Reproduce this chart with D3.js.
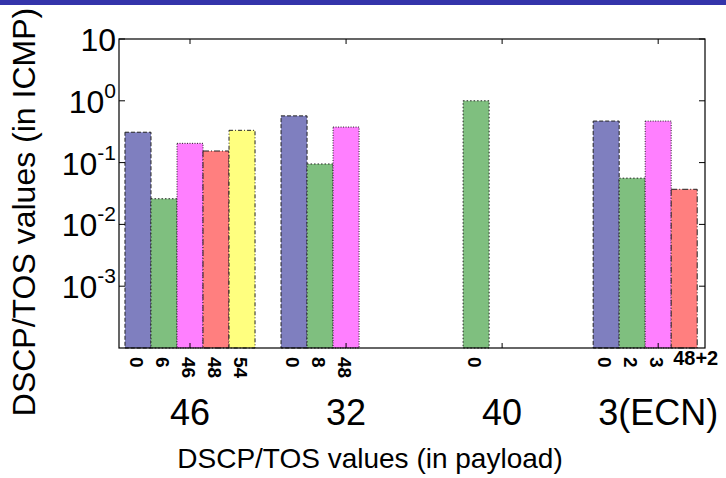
<!DOCTYPE html>
<html lang="en">
<head>
<meta charset="UTF-8">
<title>DSCP/TOS values</title>
<script src="https://d3js.org/d3.v7.min.js"></script>
<style>
  body { margin: 0; background: #fff; }
  svg { display: block; }
  text { font-family: "Liberation Sans", Arial, Helvetica, sans-serif; fill: #000; }
</style>
</head>
<body>
<script>
// groups on the x axis (DSCP/TOS in payload)
var groups = ["46", "32", "40", "3(ECN)"];

// one array per bar series, one value per group (null = no bar)
var blueVals    = [0.31, 0.57, null, 0.47];
var greenVals   = [0.026, 0.095, 1.0, 0.056];
var magentaVals = [0.205, 0.376, null, 0.47];
var salmonVals  = [0.154, null, null, 0.037];
var yellowVals  = [0.333, null, null, null];

// labels under each bar (DSCP/TOS in ICMP)
var blueLabels    = ["0", "0", null, "0"];
var greenLabels   = ["6", "8", "0", "2"];
var magentaLabels = ["46", "48", null, "3"];
var salmonLabels  = ["48", null, null, "48+2"];
var yellowLabels  = ["54", null, null, null];

// y ticks
var yTicks = [10, 1, 0.1, 0.01, 0.001];
var yTickExp = ["", "0", "-1", "-2", "-3"];

function drawChart() {
  var series = [
    { vals: blueVals,    labels: blueLabels,    fill: "#7f7fbf", dash: "4,2" },
    { vals: greenVals,   labels: greenLabels,   fill: "#7fbf7f", dash: "1.5,2" },
    { vals: magentaVals, labels: magentaLabels, fill: "#ff7fff", dash: "1,1.5" },
    { vals: salmonVals,  labels: salmonLabels,  fill: "#ff7f7f", dash: "6,2,1,2" },
    { vals: yellowVals,  labels: yellowLabels,  fill: "#ffff7f", dash: "4,2,1,2" }
  ];

  var W = 726, H = 478;
  var pL = 119, pR = 705, pT = 39, pB = 348;

  var svg = d3.select("body").append("svg").attr("width", W).attr("height", H);

  // top banner
  svg.append("rect").attr("x", 0).attr("y", 0).attr("width", W).attr("height", 5).attr("fill", "#3434aa");

  var x = d3.scaleLinear().domain([0.545, 4.3]).range([pL, pR]);
  var y = d3.scaleLog().domain([1e-4, 10]).range([pB, pT]);
  var barW = 1 / 6;

  // bars
  series.forEach(function(s, k) {
    var off = (k - 2) * barW;
    var data = s.vals.map(function(v, i) { return { v: v, i: i }; })
      .filter(function(d) { return d.v != null; });
    svg.append("g").selectAll("rect").data(data).enter().append("rect")
      .attr("x", function(d) { return x(d.i + 1 + off - barW / 2); })
      .attr("width", x(barW) - x(0))
      .attr("y", function(d) { return y(d.v); })
      .attr("height", function(d) { return pB - y(d.v); })
      .attr("fill", s.fill)
      .attr("stroke", "#222")
      .attr("stroke-width", 1)
      .attr("stroke-dasharray", s.dash);

    // bar labels
    s.labels.forEach(function(lab, i) {
      if (lab == null) return;
      var cx = x(i + 1 + off);
      if (lab.length > 2) {
        svg.append("text").attr("x", cx - 11).attr("y", 365)
          .attr("font-size", 20).attr("font-weight", "bold").text(lab);
      } else {
        svg.append("text").attr("transform", "translate(" + (cx - 8) + "," + 357 + ") rotate(90)")
          .attr("font-size", 19).attr("font-weight", "bold").text(lab);
      }
    });
  });

  // frame
  svg.append("rect").attr("x", pL).attr("y", pT).attr("width", pR - pL).attr("height", pB - pT)
    .attr("fill", "none").attr("stroke", "#000").attr("stroke-width", 1.2);

  // x ticks top and bottom, group labels
  groups.forEach(function(g, i) {
    var gx = x(i + 1);
    svg.append("line").attr("x1", gx).attr("x2", gx).attr("y1", pT).attr("y2", pT + 5).attr("stroke", "#000");
    svg.append("line").attr("x1", gx).attr("x2", gx).attr("y1", pB).attr("y2", pB - 5).attr("stroke", "#000");
    svg.append("text").attr("x", gx).attr("y", 425).attr("text-anchor", "middle")
      .attr("font-size", 36).text(g);
  });

  // y ticks left and right with labels
  yTicks.forEach(function(t, i) {
    var ty = y(t);
    svg.append("line").attr("x1", pL).attr("x2", pL + 6).attr("y1", ty).attr("y2", ty).attr("stroke", "#000");
    svg.append("line").attr("x1", pR).attr("x2", pR - 6).attr("y1", ty).attr("y2", ty).attr("stroke", "#000");
    var lab = svg.append("text").attr("x", 116).attr("y", ty + 12).attr("text-anchor", "end")
      .attr("font-size", 32);
    lab.append("tspan").text("10");
    if (yTickExp[i] !== "") {
      lab.append("tspan").attr("font-size", 21).attr("dy", -15).text(yTickExp[i]);
    }
  });

  // axis titles
  svg.append("text").attr("x", 370).attr("y", 468).attr("text-anchor", "middle")
    .attr("font-size", 28).text("DSCP/TOS values (in payload)");
  svg.append("text").attr("transform", "translate(35,212) rotate(-90)").attr("text-anchor", "middle")
    .attr("font-size", 32).text("DSCP/TOS values (in ICMP)");
}
drawChart();
</script>
</body>
</html>
